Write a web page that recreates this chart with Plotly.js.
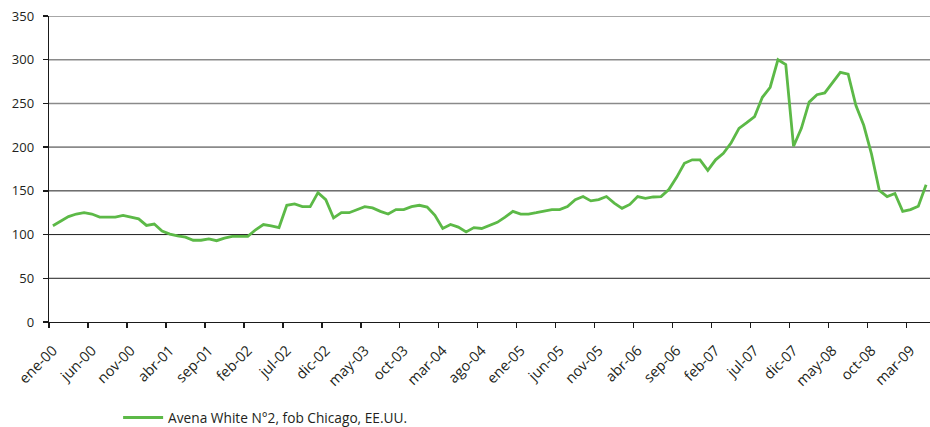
<!DOCTYPE html>
<html>
<head>
<meta charset="utf-8">
<script src="https://cdn.plot.ly/plotly-3.0.1.min.js"></script>
<style>
  html, body { margin: 0; padding: 0; background: #ffffff; }
  #chart { width: 930px; height: 427px; }
</style>
</head>
<body>
<div id="chart"></div>
<script>
// Month names (Spanish) and years covered
const monthNames = ["ene","feb","mar","abr","may","jun","jul","ago","sep","oct","nov","dic"];
const startYear = 2000;

// Avena White N°2, fob Chicago, EE.UU. — monthly, ene-00 .. may-09
const avenaValues = [
  110, 115.5, 120.5, 123.5, 125, 123.5, 120, 120, 120, 122, 120, 118,
  110.5, 112, 104, 100.5, 98.5, 97, 93.5, 93.5, 95, 93, 96, 98,
  98, 98, 105.5, 111.5, 110, 108, 133.5, 135, 132, 132, 148, 140,
  119, 125, 125, 128.5, 132, 130.5, 126.5, 123.5, 128.5, 128.5, 132, 133.5,
  131.5, 122, 107, 111.5, 108.5, 103, 108, 107, 110.5, 114, 120, 126.5,
  123.5, 123.5, 125, 127, 128.5, 128.5, 132, 140, 143.5, 138.5, 140, 143.5,
  136, 130, 134.5, 143.5, 141.5, 143, 143.5, 151.5, 165.5, 181.5, 185.5, 185.5,
  173.5, 185.5, 193, 205, 221.5, 228, 235, 257, 268.5, 300, 294.5, 201,
  221.5, 251.5, 260, 262, 273.5, 285.5, 283.5, 247.5, 225, 192, 150.5, 143.5,
  147, 126.5, 128.5, 132.5, 157
];

const seriesName = "Avena White N°2, fob Chicago, EE.UU.";
const yTicks = [0, 50, 100, 150, 200, 250, 300, 350];
const labelStep = 5;

// Category labels built from month names
const categories = avenaValues.map((v, i) => {
  const m = i % 12;
  const y = startYear + Math.floor(i / 12);
  return monthNames[m] + "-" + String(y % 100).padStart(2, "0");
});
const xIndex = categories.map((c, i) => i);
const tickVals = xIndex.filter(i => i % labelStep === 0);
const tickText = tickVals.map(i => categories[i]);

const fontFamily = "'Open Sans', 'Noto Sans', sans-serif";
const textColor = "#231f20";

const gridShapes = yTicks.filter(v => v > 0).map(v => ({
  type: "line", xref: "paper", x0: 0, x1: 1, yref: "y", y0: v, y1: v,
  layer: "below",
  line: { color: v >= 200 ? "#8a8a8a" : "#1e1e1e", width: v >= 200 ? 1.6 : 1 }
}));

const trace = {
  x: xIndex,
  y: avenaValues,
  type: "scatter",
  mode: "lines",
  name: seriesName,
  line: { color: "#5cb947", width: 2.8 },
  hoverinfo: "skip"
};

const layout = {
  width: 930,
  height: 427,
  margin: { l: 49, r: 0, t: 16, b: 105 },
  paper_bgcolor: "#ffffff",
  plot_bgcolor: "#ffffff",
  font: { family: fontFamily, size: 13, color: textColor },
  showlegend: true,
  legend: {
    orientation: "h",
    xref: "container", yref: "container",
    x: 0.127, xanchor: "left",
    y: 0.022, yanchor: "middle",
    font: { family: fontFamily, size: 13.7, color: textColor },
    bgcolor: "rgba(0,0,0,0)",
    itemwidth: 40
  },
  xaxis: {
    range: [-0.5, avenaValues.length - 0.5],
    tickmode: "array",
    tickvals: tickVals,
    ticktext: tickText,
    tickangle: -45,
    ticks: "outside",
    ticklen: 5,
    tickcolor: "rgba(0,0,0,0)",
    ticklabelstandoff: 8,
    minor: { tick0: -0.5, dtick: labelStep, ticks: "outside", ticklen: 5, tickcolor: "#1a1a1a", tickwidth: 1.3, showgrid: false },
    showgrid: false,
    zeroline: false,
    showline: true,
    linecolor: "#1a1a1a",
    linewidth: 1.3,
    tickfont: { family: fontFamily, size: 14.5, color: textColor },
    fixedrange: true
  },
  yaxis: {
    range: [0, 350],
    tickmode: "array",
    tickvals: yTicks,
    ticks: "outside",
    ticklen: 5,
    tickwidth: 1.3,
    tickcolor: "#1a1a1a",
    ticklabelstandoff: 6,
    showgrid: false,
    zeroline: false,
    showline: true,
    linecolor: "#1a1a1a",
    linewidth: 1.3,
    tickfont: { family: fontFamily, size: 13, color: textColor },
    fixedrange: true
  },
  shapes: gridShapes
};

Plotly.newPlot("chart", [trace], layout, { displayModeBar: false, staticPlot: true });
</script>
</body>
</html>
